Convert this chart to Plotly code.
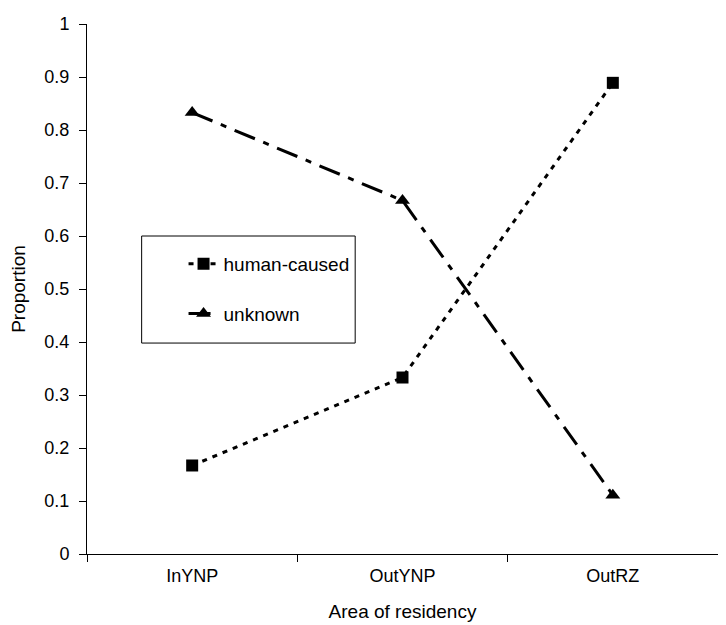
import plotly.graph_objects as go

areas = ['InYNP', 'OutYNP', 'OutRZ']
human_caused = [0.167, 0.333, 0.889]
unknown = [0.833, 0.667, 0.111]

font = dict(family='Liberation Sans, Arial, sans-serif', size=18, color='black')

fig = go.Figure()
fig.add_trace(go.Scatter(
    x=areas, y=human_caused, name='human-caused', mode='lines+markers',
    line=dict(color='black', width=3, dash='5px,6px'),
    marker=dict(symbol='square', size=12, color='black'),
    legendgroup='h'))
fig.add_trace(go.Scatter(
    x=areas, y=unknown, name='unknown', mode='lines+markers',
    line=dict(color='black', width=3, dash='22px,9px,6px,9px'),
    marker=dict(symbol='triangle-up', size=13, color='black'),
    legendgroup='u'))

# legend frame
fig.add_shape(type='rect', xref='paper', yref='paper',
              x0=0.0866, x1=0.425, y0=0.398, y1=0.6,
              line=dict(color='black', width=1), fillcolor='white', layer='below')

fig.update_layout(
    width=726, height=625,
    paper_bgcolor='white', plot_bgcolor='white',
    font=font,
    margin=dict(l=79, r=16, t=16, b=79),
    showlegend=True,
    legend=dict(x=0.153, y=0.583, xanchor='left', yanchor='top',
                borderwidth=0, bgcolor='rgba(0,0,0,0)',
                font=dict(size=19), tracegroupgap=22),
    xaxis=dict(title=dict(text='Area of residency', font=dict(size=19), standoff=20),
               tickfont=dict(size=18), ticklabelstandoff=5, automargin=False,
               showline=True, linecolor='black', linewidth=1,
               ticks='outside', ticklen=7, tickcolor='black',
               tickson='boundaries', showgrid=False, range=[-0.5, 2.5]),
    yaxis=dict(title=dict(text='Proportion', font=dict(size=19), standoff=14),
               tickfont=dict(size=18), ticklabelstandoff=6, automargin=False,
               showline=True, linecolor='black', linewidth=1,
               ticks='outside', ticklen=7, tickcolor='black',
               range=[0, 1], dtick=0.1, showgrid=False, zeroline=False),
)

fig.write_html("out.html")
